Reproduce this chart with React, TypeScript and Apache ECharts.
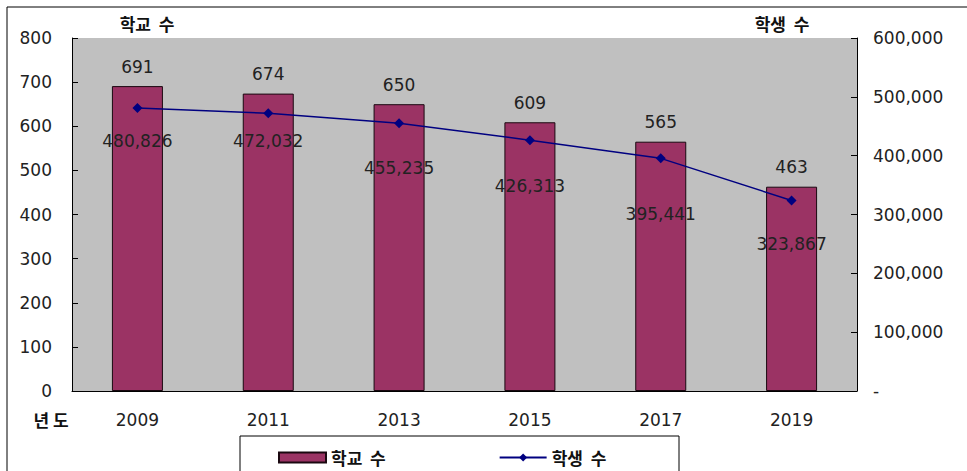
import React, { useEffect, useRef } from "react";
import * as echarts from "echarts";

const years = ["2009", "2011", "2013", "2015", "2017", "2019"];
const schools = [691, 674, 650, 609, 565, 463];
const students = [480826, 472032, 455235, 426313, 395441, 323867];
const leftTicks = { min: 0, max: 800, interval: 100 };
const rightTicks = { min: 0, max: 600000, interval: 100000 };
// label distances under the student line points (styling only)
const studentLabelGap = [19, 14, 31, 32, 42, 30];

const NUM_FONT = "DejaVu Sans";
const KR_FONT = "Noto Sans CJK KR";

export default function App() {
  const ref = useRef<HTMLDivElement>(null);
  useEffect(() => {
    if (!ref.current) return;
    const chart = echarts.init(ref.current, null, { renderer: "svg" });
    const fmt = (v: number) => v.toLocaleString("en-US");
    chart.setOption({
      animation: false,
      backgroundColor: "#ffffff",
      textStyle: { fontFamily: NUM_FONT },
      grid: {
        left: 72,
        right: 110,
        top: 38,
        bottom: 80,
        show: true,
        backgroundColor: "#c0c0c0",
        borderWidth: 0,
      },
      legend: {
        left: 273,
        top: 444,
        itemWidth: 47,
        itemHeight: 10,
        itemGap: 113,
        textStyle: { fontFamily: KR_FONT, fontWeight: "bold", fontSize: 17, color: "#111" },
        data: [{ name: "학교  수", icon: "rect" }, { name: "학생  수" }],
      },
      graphic: [
        {
          type: "rect",
          shape: { x: 7, y: 7, width: 1000, height: 500 },
          style: { fill: "none", stroke: "#000", lineWidth: 1 },
          silent: true,
          z: -10,
        },
        {
          type: "rect",
          shape: { x: 240, y: 436, width: 439, height: 60 },
          style: { fill: "#fff", stroke: "#000", lineWidth: 1 },
          silent: true,
          z: -5,
        },
        {
          type: "text",
          x: 147,
          y: 23,
          style: {
            text: "학교  수",
            font: `bold 17px "${KR_FONT}"`,
            fill: "#111",
            align: "center",
            verticalAlign: "middle",
          },
        },
        {
          type: "text",
          x: 782,
          y: 23,
          style: {
            text: "학생  수",
            font: `bold 17px "${KR_FONT}"`,
            fill: "#111",
            align: "center",
            verticalAlign: "middle",
          },
        },
        {
          type: "text",
          x: 51,
          y: 419,
          style: {
            text: "년 도",
            font: `bold 17px "${KR_FONT}"`,
            fill: "#111",
            align: "center",
            verticalAlign: "middle",
          },
        },
      ],
      xAxis: {
        type: "category",
        data: years,
        boundaryGap: true,
        axisLine: { lineStyle: { color: "#000", width: 1 } },
        axisTick: { inside: true, length: 5, alignWithLabel: false, lineStyle: { color: "#000" } },
        axisLabel: { margin: 20, fontSize: 17, color: "#222", fontFamily: NUM_FONT },
        splitLine: { show: false },
      },
      yAxis: [
        {
          type: "value",
          ...leftTicks,
          position: "left",
          axisLine: { show: true, lineStyle: { color: "#000", width: 1 } },
          axisTick: { show: true, inside: true, length: 6, lineStyle: { color: "#000" } },
          axisLabel: { margin: 20, fontSize: 17, color: "#222", fontFamily: NUM_FONT },
          splitLine: { show: false },
        },
        {
          type: "value",
          ...rightTicks,
          position: "right",
          axisLine: { show: true, lineStyle: { color: "#000", width: 1 } },
          axisTick: { show: true, inside: true, length: 6, lineStyle: { color: "#000" } },
          axisLabel: {
            margin: 16,
            fontSize: 17,
            color: "#222",
            fontFamily: NUM_FONT,
            formatter: (v: number) => (v === 0 ? "-" : fmt(v)),
          },
          splitLine: { show: false },
        },
      ],
      series: [
        {
          name: "학교  수",
          type: "bar",
          yAxisIndex: 0,
          data: schools,
          barWidth: 51,
          itemStyle: { color: "#9b3364", borderColor: "#1a0810", borderWidth: 1 },
          label: {
            show: true,
            position: "top",
            distance: 11,
            fontSize: 17,
            color: "#222",
            fontFamily: NUM_FONT,
          },
        },
        {
          name: "학생  수",
          type: "line",
          yAxisIndex: 1,
          data: students.map((v, i) => ({
            value: v,
            label: { distance: studentLabelGap[i] },
          })),
          symbol: "diamond",
          symbolSize: 10,
          lineStyle: { color: "#000080", width: 1.5 },
          itemStyle: { color: "#000080" },
          label: {
            show: true,
            position: "bottom",
            fontSize: 17,
            color: "#222",
            fontFamily: NUM_FONT,
            formatter: (p: any) => fmt(p.value),
          },
        },
      ],
    });
    return () => chart.dispose();
  }, []);
  return (
    <div
      ref={ref}
      style={{ position: "fixed", left: 0, top: 0, width: 967, height: 471 }}
    />
  );
}
